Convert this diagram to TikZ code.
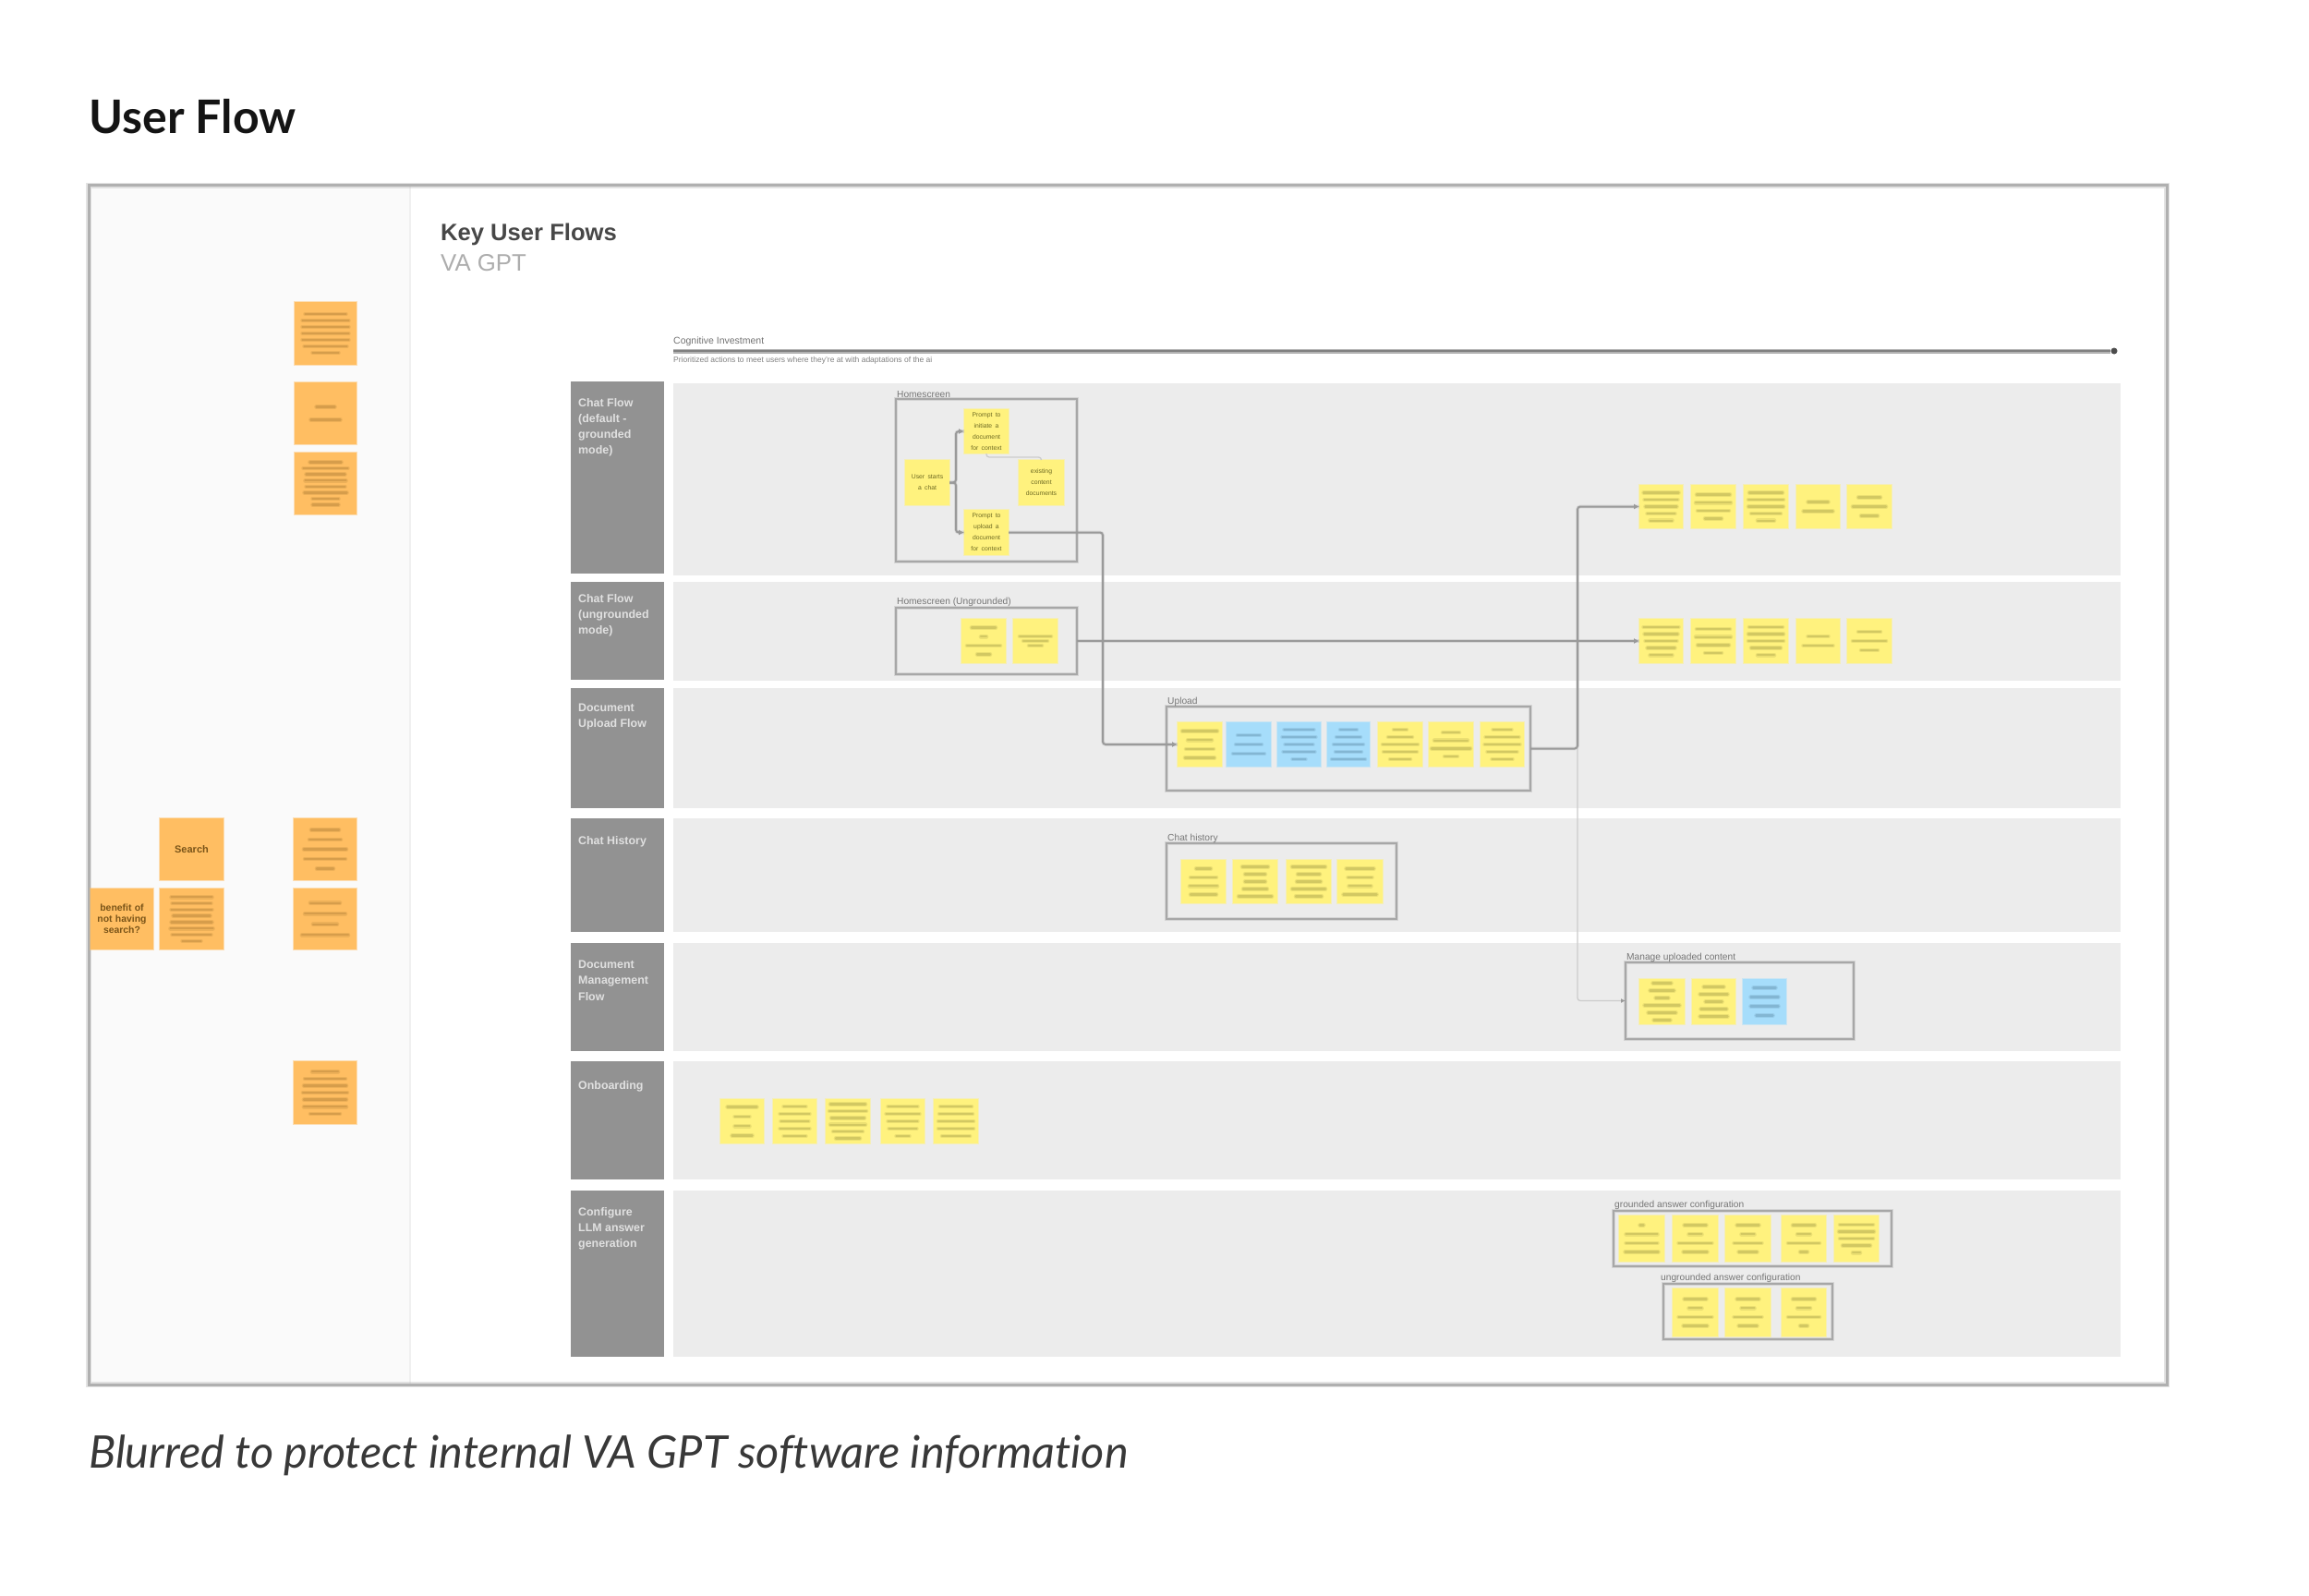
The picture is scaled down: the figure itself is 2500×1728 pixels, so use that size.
\documentclass[tikz,border=0pt]{standalone}
\usepackage{fontspec}
\setmainfont{Liberation Sans}
\newfontfamily\headfont[Ligatures=CommonOff]{Lato}
\usetikzlibrary{arrows.meta,calc}
\definecolor{stickyY}{HTML}{FFF27E}
\definecolor{stickyB}{HTML}{A6DDFB}
\definecolor{stickyO}{HTML}{FFBE62}
\definecolor{inkY}{HTML}{6E6A22}
\definecolor{inkB}{HTML}{35607A}
\definecolor{inkO}{HTML}{7A5418}
\definecolor{laneBody}{HTML}{ECECEC}
\definecolor{laneHead}{HTML}{929292}
\definecolor{panelGrey}{HTML}{FAFAFA}
\definecolor{frameGrey}{HTML}{B0B0B0}
\definecolor{boxGrey}{HTML}{A0A0A0}
\definecolor{flowGrey}{HTML}{9A9A9A}
\tikzset{
  stbase/.style={rectangle,inner sep=0pt,outer sep=0pt,align=center,line width=2pt,draw opacity=.45},
  yel/.style={stbase,fill=stickyY,draw=stickyY,text=inkY},
  blu/.style={stbase,fill=stickyB,draw=stickyB,text=inkB},
  org/.style={stbase,fill=stickyO,draw=stickyO,text=inkO},
  lanebody/.style={rectangle,fill=laneBody,inner sep=0pt,outer sep=0pt},
  lanehead/.style={rectangle,fill=laneHead,inner sep=0pt,outer sep=0pt},
  lanetext/.style={anchor=north west,align=left,inner sep=0pt,text=white,text opacity=.72,font=\fontsize{12.4}{17.2}\selectfont\bfseries},
  groupbox/.style={rectangle,draw=boxGrey,draw opacity=.85,line width=2.2pt,inner sep=0pt,outer sep=0pt,
    preaction={draw=boxGrey,draw opacity=.3,line width=4.6pt}},
  grouptitle/.style={anchor=west,inner sep=0pt,text=black,text opacity=.5,font=\fontsize{10.2}{12}\selectfont},
  flow/.style={draw=flowGrey,line width=2pt,rounded corners=3pt,-{Latex[length=6pt,width=6pt]},
    preaction={draw=flowGrey,draw opacity=.25,line width=3.6pt,-}},
  thinflow/.style={draw=black!20,line width=1.3pt,rounded corners=3pt,-{Latex[length=5pt,width=5pt,color=flowGrey]}},
}
% sticky: name, x1, y1, x2, y2, style, text
\newcommand{\stk}[7]{\node[#6,minimum width={(#4-#2)*1pt},minimum height={(#5-#3)*1pt},text width={(#4-#2-6)*1pt}] (#1) at ({(#2+#4)/2},{(#3+#5)/2}) {#7};}
% soft bars standing for the blurred, unreadable lines of a sticky
\newcommand{\softbars}[4]{%
  \foreach \w [count=\i] in {#4} {\global\let\nbars\i}%
  \foreach \w [count=\i] in {#4} {%
    \draw[#2,opacity=.13,line width=4.6pt,line cap=round] ($(#1.center)+({-\w/2},{(\i-(\nbars+1)/2)*#3})$) -- ++(\w,0);
    \draw[#2,opacity=.2,line width=2.4pt,line cap=round] ($(#1.center)+({-\w/2},{(\i-(\nbars+1)/2)*#3})$) -- ++(\w,0);
  }}
\newcommand{\by}[3]{\softbars{#1}{inkY}{#2}{#3}}
\newcommand{\bb}[3]{\softbars{#1}{inkB}{#2}{#3}}
\newcommand{\bo}[3]{\softbars{#1}{inkO}{#2}{#3}}
\newcommand{\smalltext}{\fontsize{6.8}{8.6}\selectfont}
\begin{document}
\begin{tikzpicture}[x=1pt,y=-1pt]
\useasboundingbox (0,0) rectangle (2500,1728);
\fill[white] (0,0) rectangle (2500,1728);

\node[anchor=west,inner sep=0pt,font=\headfont\fontsize{50}{54}\selectfont\bfseries,text=black!92] (title) at (96,126) {User Flow};
\node[anchor=west,inner sep=0pt,font=\headfont\fontsize{48.6}{54}\selectfont\itshape,text=black!78] (caption) at (96,1576) {Blurred to protect internal VA GPT software information};

% frame and side panel
\node[rectangle,fill=white,inner sep=0pt,outer sep=0pt,minimum width=2250pt,minimum height=1298pt] (sheet) at (1221,850) {};
\fill[panelGrey] (96,201) rectangle (444,1498);
\draw[black!6,line width=1.2pt] (444,201) -- (444,1498);
\draw[frameGrey,draw opacity=.35,line width=6pt] (96,201) rectangle (2346,1499);
\draw[frameGrey,line width=3pt] (96,201) rectangle (2346,1499);

\node[anchor=west,inner sep=0pt,text=black!72,font=\fontsize{25.6}{28}\selectfont\bfseries] (keyflows) at (477,254) {Key User Flows};
\node[anchor=west,inner sep=0pt,text=black!32,font=\fontsize{25.8}{28}\selectfont] (vagpt) at (477,285) {VA GPT};

% cognitive axis
\node[anchor=west,inner sep=0pt,text=black!55,font=\fontsize{10.5}{12}\selectfont] (cogt) at (729,370) {Cognitive Investment};
\node[anchor=west,inner sep=0pt,text=black!50,font=\fontsize{8.5}{10}\selectfont] (cogs) at (729,390) {Prioritized actions to meet users where they're at with adaptations of the ai};
\coordinate (axisA) at (729,380);
\node[circle,fill=black!70,inner sep=0pt,minimum size=7pt] (axisB) at (2289,380) {};
\draw[black!30,line width=5pt] (axisA) -- (axisB);
\draw[black!50,line width=2.5pt] (axisA) -- (axisB);

% lanes
\node[lanehead,minimum width=101pt,minimum height=208pt] (headA) at (668,517) {};
\node[lanebody,minimum width=1567pt,minimum height=208pt] (bodyA) at (1512.5,519) {};
\node[lanehead,minimum width=101pt,minimum height=106pt] (headB) at (668,683) {};
\node[lanebody,minimum width=1567pt,minimum height=107pt] (bodyB) at (1512.5,683) {};
\node[lanehead,minimum width=101pt,minimum height=130pt] (headC) at (668,810) {};
\node[lanebody,minimum width=1567pt,minimum height=130pt] (bodyC) at (1512.5,810) {};
\node[lanehead,minimum width=101pt,minimum height=123pt] (headD) at (668,947.5) {};
\node[lanebody,minimum width=1567pt,minimum height=123pt] (bodyD) at (1512.5,947.5) {};
\node[lanehead,minimum width=101pt,minimum height=117pt] (headE) at (668,1079.5) {};
\node[lanebody,minimum width=1567pt,minimum height=117pt] (bodyE) at (1512.5,1079.5) {};
\node[lanehead,minimum width=101pt,minimum height=128pt] (headF) at (668,1213) {};
\node[lanebody,minimum width=1567pt,minimum height=128pt] (bodyF) at (1512.5,1213) {};
\node[lanehead,minimum width=101pt,minimum height=180pt] (headG) at (668,1379) {};
\node[lanebody,minimum width=1567pt,minimum height=180pt] (bodyG) at (1512.5,1379) {};

\node[lanetext] (labA) at (626,431) {Chat Flow\\(default -\\grounded\\mode)};
\node[lanetext] (labB) at (626,643) {Chat Flow\\(ungrounded\\mode)};
\node[lanetext] (labC) at (626,762) {Document\\Upload Flow};
\node[lanetext] (labD) at (626,905) {Chat History};
\node[lanetext] (labE) at (626,1040) {Document\\Management\\Flow};
\node[lanetext] (labF) at (626,1170) {Onboarding};
\node[lanetext] (labG) at (626,1307) {Configure\\LLM answer\\generation};

% group boxes
\node[groupbox,minimum width=196pt,minimum height=176pt] (boxHome) at (1068,520) {};
\node[groupbox,minimum width=196pt,minimum height=72pt] (boxUng) at (1068,694) {};
\node[groupbox,minimum width=394pt,minimum height=91pt] (boxUp) at (1460,810.5) {};
\node[groupbox,minimum width=249pt,minimum height=82pt] (boxHist) at (1387.5,954) {};
\node[groupbox,minimum width=247pt,minimum height=83pt] (boxMan) at (1883.5,1083.5) {};
\node[groupbox,minimum width=301pt,minimum height=60pt] (boxGr) at (1897.5,1341) {};
\node[groupbox,minimum width=183pt,minimum height=60pt] (boxUg) at (1892.5,1420) {};

\node[grouptitle] (tHome) at (971,427) {Homescreen};
\node[grouptitle] (tUng) at (971,652) {Homescreen (Ungrounded)};
\node[grouptitle] (tUp) at (1264,760) {Upload};
\node[grouptitle] (tHist) at (1264,908) {Chat history};
\node[grouptitle] (tMan) at (1761,1037) {Manage uploaded content};
\node[grouptitle] (tGr) at (1748,1305) {grounded answer configuration};
\node[grouptitle] (tUg) at (1798,1384) {ungrounded answer configuration};

% orange stickies
\stk{oA}{319}{327}{386}{395}{org}{}
\stk{oB}{319}{414}{386}{481}{org}{}
\stk{oC}{319}{490}{386}{557}{org}{}
\stk{oD}{173}{886}{242}{953}{org}{\fontsize{11}{13}\selectfont\bfseries Search}
\stk{oE}{318}{886}{386}{953}{org}{}
\stk{oF}{98}{962}{166}{1028}{org}{\fontsize{10.4}{12}\selectfont\bfseries benefit of not having search?}
\stk{oG}{173}{962}{242}{1028}{org}{}
\stk{oH}{318}{962}{386}{1028}{org}{}
\stk{oI}{318}{1149}{386}{1217}{org}{}
\bo{oA}{7}{44,50,50,50,50,46,28}
\bo{oB}{14}{20,32}
\bo{oC}{6.6}{34,48,42,44,42,46,28,28}
\bo{oE}{10.5}{30,34,46,44,18}
\bo{oG}{6.8}{44,42,44,40,44,46,42,20}
\bo{oH}{11.5}{32,44,26,50}
\bo{oI}{7.6}{28,44,46,48,46,46,32}

% homescreen
\stk{sA}{980}{498}{1028}{547}{yel}{\smalltext User starts a chat}
\stk{sB}{1044}{443}{1092}{491}{yel}{\smalltext Prompt to initiate a document for context}
\stk{sC}{1044}{552}{1092}{601}{yel}{\smalltext Prompt to upload a document for context}
\stk{sD}{1103}{498}{1152}{547}{yel}{\smalltext existing content documents}
% homescreen ungrounded
\stk{uA}{1041}{670}{1089}{718}{yel}{}
\stk{uB}{1097}{670}{1145}{718}{yel}{}
\by{uA}{9.6}{26,6,36,14}
\by{uB}{5}{34,26,14}

% upload
\stk{pA}{1275}{782}{1323}{830}{yel}{}
\stk{pB}{1328}{782}{1376}{830}{blu}{}
\stk{pC}{1383}{782}{1430}{830}{blu}{}
\stk{pD}{1437}{782}{1483}{830}{blu}{}
\stk{pE}{1492}{782}{1540}{830}{yel}{}
\stk{pF}{1547}{782}{1595}{830}{yel}{}
\stk{pG}{1603}{782}{1650}{830}{yel}{}
\by{pA}{9.6}{38,26,30,32}
\bb{pB}{10}{24,28,34}
\bb{pC}{8}{32,36,30,34,14}
\bb{pD}{8}{18,26,32,28,36}
\by{pE}{8}{14,26,38,36,22}
\by{pF}{8.6}{18,36,42,14}
\by{pG}{8}{20,36,38,32,22}

% chat history
\stk{hA}{1279}{931}{1327}{978}{yel}{}
\stk{hB}{1335}{931}{1383}{978}{yel}{}
\stk{hC}{1393}{931}{1441}{978}{yel}{}
\stk{hD}{1448}{931}{1497}{978}{yel}{}
\by{hA}{9.4}{16,28,30,28}
\by{hB}{8}{28,22,22,26,36}
\by{hC}{8}{36,24,26,36,28}
\by{hD}{9.4}{30,26,24,36}

% result rows
\stk{rA}{1775}{525}{1822}{572}{yel}{}
\stk{rB}{1831}{525}{1879}{572}{yel}{}
\stk{rC}{1888}{525}{1936}{572}{yel}{}
\stk{rD}{1945}{525}{1992}{572}{yel}{}
\stk{rE}{2000}{525}{2048}{572}{yel}{}
\by{rA}{7.6}{38,36,34,30,24}
\by{rB}{8.6}{36,38,34,18}
\by{rC}{7.6}{36,38,38,32,18}
\by{rD}{10}{22,32}
\by{rE}{10}{24,36,18}
\stk{qA}{1775}{670}{1822}{718}{yel}{}
\stk{qB}{1831}{670}{1879}{718}{yel}{}
\stk{qC}{1888}{670}{1936}{718}{yel}{}
\stk{qD}{1945}{670}{1992}{718}{yel}{}
\stk{qE}{2000}{670}{2048}{718}{yel}{}
\by{qA}{7.6}{38,36,34,30,24}
\by{qB}{8.6}{36,38,34,18}
\by{qC}{7.6}{36,38,38,32,18}
\by{qD}{10}{22,32}
\by{qE}{10}{24,36,18}

% manage
\stk{mA}{1775}{1060}{1824}{1109}{yel}{}
\stk{mB}{1832}{1060}{1879}{1109}{yel}{}
\stk{mC}{1887}{1060}{1934}{1109}{blu}{}
\by{mA}{8}{20,26,14,38,30,18}
\by{mB}{8}{22,30,18,28,30}
\bb{mC}{10}{24,30,30,18}

% onboarding
\stk{nA}{780}{1190}{827}{1238}{yel}{}
\stk{nB}{837}{1190}{884}{1238}{yel}{}
\stk{nC}{894}{1190}{942}{1238}{yel}{}
\stk{nD}{954}{1190}{1001}{1238}{yel}{}
\stk{nE}{1011}{1190}{1059}{1238}{yel}{}
\by{nA}{10.4}{32,16,16,22}
\by{nB}{8}{24,32,30,32,24}
\by{nC}{7.4}{38,40,36,38,32,26}
\by{nD}{8}{32,36,32,30,14}
\by{nE}{8}{34,36,38,38,30}

% grounded configuration
\stk{gA}{1753}{1316}{1802}{1366}{yel}{}
\stk{gB}{1811}{1316}{1860}{1366}{yel}{}
\stk{gC}{1868}{1316}{1917}{1366}{yel}{}
\stk{gD}{1929}{1316}{1977}{1366}{yel}{}
\stk{gE}{1986}{1316}{2034}{1366}{yel}{}
\by{gA}{9.6}{4,34,34,36}
\by{gB}{9.6}{24,14,36,26}
\by{gC}{9.6}{24,14,30,20}
\by{gD}{9.6}{24,14,34,8}
\by{gE}{7.6}{36,38,36,30,8}
\stk{kA}{1811}{1395}{1860}{1447}{yel}{}
\stk{kB}{1868}{1395}{1917}{1447}{yel}{}
\stk{kC}{1929}{1395}{1977}{1447}{yel}{}
\by{kA}{9.6}{24,14,36,26}
\by{kB}{9.6}{24,14,30,20}
\by{kC}{9.6}{24,14,34,8}

% connectors
\coordinate (jA) at (1035,522.5);
\coordinate (jB) at (1194,700);
\coordinate (jC) at (1708,810.5);
\draw[flow] (sA.east) -- (jA) -- (jA |- sB.west) -- (sB.west);
\draw[flow] (sA.east) -- (jA) -- (jA |- sC.west) -- (sC.west);
\draw[thinflow,-] (sB.south) -- ++(0,4) -| (sD.north);
\draw[flow] (sC.east) -- (sC.east -| jB) -- (jB |- pA.west) -- (pA.west);
\draw[flow] (boxUng.east) -- (qA.west);
\draw[flow] (boxUp.east) -- (jC) -- (jC |- rA.west) -- (rA.west);
\draw[thinflow] (jC) -- (jC |- boxMan.west) -- (boxMan.west);
\end{tikzpicture}
\end{document}
